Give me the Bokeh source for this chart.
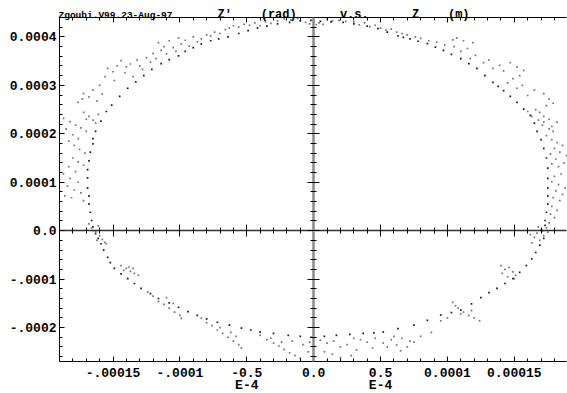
from bokeh.plotting import figure
from bokeh.models import Range1d, LinearAxis, FixedTicker, Label
from bokeh.embed import file_html
from bokeh.resources import INLINE

# Units: Z in micrometres (1e-6 m), Z' in microradians (1e-6 rad)
core_z = [-2,-10,-18,-27,-35,-42,-49,-56,-64,-71,-77,-84,-90,-96,-101,-108,-114,-121,-127,-133,-139,-145,-151,-155,-159,-163,-165,-165,-167,-168,-169,-169,-169,-168,-168,-167,-166,-165,-163,-161,-159,-157,-154,-152,-149,-144,-139,-134,-129,-122,-116,-108,-101,-94,-87,-80,-72,-63,-54,-47,-40,-30,-19,-10,-2,8,17,27,37,45,52,63,75,85,95,103,110,118,125,131,137,143,149,154,159,163,166,169,172,171,173,173,174,175,175,175,175,175,174,172,170,167,165,162,157,152,147,142,138,134,128,122,116,110,103,97,91,85,78,72,67,63,55,48,40,30,22,13,5]
core_zp = [434,433,430,427,422,418,413,407,400,396,392,385,378,370,361,353,345,333,320,307,294,277,259,246,226,205,190,179,162,144,126,109,88,72,55,38,21,8,-6,-16,-27,-40,-55,-66,-78,-89,-99,-109,-119,-130,-140,-149,-158,-167,-175,-182,-189,-195,-201,-205,-209,-212,-216,-218,-220,-218,-216,-214,-212,-211,-209,-202,-195,-185,-174,-169,-164,-151,-138,-128,-119,-109,-99,-86,-72,-58,-45,-30,-16,0,11,21,38,55,72,88,108,129,150,170,188,205,222,238,251,265,277,289,298,306,320,335,345,355,364,372,379,386,391,396,399,402,410,417,422,427,430,431,432]

halo_z = [
    -176,-173,-172,-168,-165,-162,-160,-158,-156,-154,-150,-149,-147,-144,-141,-140,-137,-135,-132,-130,-128,-125,-122,-120,-118,-116,-114,-112,-110,-108,-105,-103,-101,-99,-96,-93,-90,-87,-84,-80,-77,-74,-70,-66,-63,-60,-56,-52,-48,-44,-40,-36,-32,-27,-22,-17,-12,
    -172,-168,-165,-161,-170,-163,
    -6,-3,0,2,4,7,10,14,19,24,30,34,38,42,46,50,54,58,62,66,70,76,80,86,92,98,104,107,112,119,115,110,105,117,121,127,131,134,139,142,147,152,157,149,154,145,152,156,160,165,172,176,179,174,169,166,172,176,182,178,172,
    160,163,168,171,176,179,174,178,182,186,180,184,189,177,181,187,183,178,190,185,180,178,183,188,181,186,179,184,190,178,182,177,180,176,174,170,167,172,165,169,163,175,162,168,
    140,143,146,149,151,145,141,150,104,108,112,116,120,124,110,106,118,100,95,75,70,65,62,72,58,52,46,40,35,30,25,20,15,10,5,0,-3,8,14,20,28,32,44,55,66,80,88,60,
    -144,-140,-137,-134,-131,-138,-142,-135,-124,-120,-116,-112,-108,-104,-100,-99,-110,-105,-84,-80,-76,-72,-68,-64,-60,-56,-54,-70,-62,-58,-40,-35,-30,-26,-22,-18,-14,-10,-32,-24,-16,-8,-4,
    -187,-182,-178,-174,-170,-185,-180,-176,-183,-179,-175,-171,-180,-176,-183,-172,-178,-187,-182,-176,-184,-179,-174,-186,-181,-172,-168,-166,-163,-160,-158,-156,-162,-155,-165,-161,
]
halo_zp = [
    265,272,283,276,290,268,300,282,318,335,328,310,340,351,326,338,344,318,352,340,333,357,348,366,355,388,372,380,365,392,378,370,398,385,393,381,400,390,396,404,402,410,407,415,418,423,420,426,424,429,423,431,428,433,437,435,438,
    244,236,228,240,230,222,
    430,427,431,425,429,426,436,433,434,432,431,425,429,421,424,418,414,416,410,407,404,400,397,392,389,383,394,398,392,388,376,370,380,355,362,347,352,335,341,330,347,338,331,314,320,305,294,300,279,290,283,272,263,258,244,250,236,230,224,215,224,
    246,236,228,218,210,205,196,188,182,176,170,162,155,158,148,140,132,138,125,117,112,101,95,88,82,75,68,62,58,50,42,34,27,16,6,2,-5,-10,-14,-20,-25,-3,-8,8,
    -72,-80,-76,-85,-92,-95,-88,-99,-148,-160,-168,-175,-180,-186,-172,-155,-165,-180,-186,-230,-240,-248,-236,-228,-225,-232,-222,-230,-225,-222,-235,-240,-228,-232,-226,-238,-230,-250,-255,-262,-258,-246,-242,-240,-222,-218,-210,-218,
    -72,-78,-84,-88,-92,-75,-82,-78,-127,-135,-146,-152,-160,-168,-175,-181,-138,-150,-181,-190,-196,-205,-212,-220,-228,-235,-242,-200,-210,-218,-216,-225,-232,-238,-245,-252,-258,-263,-222,-230,-228,-235,-250,
    232,225,218,212,205,210,198,190,185,176,168,160,150,142,132,135,122,117,108,100,92,84,78,72,68,62,14,5,-2,-10,-18,-24,-20,-27,0,10,
]

# plotted window (data units) and axis tick labels
z_lo, z_hi = -190, 189
zp_lo, zp_hi = -270, 440
x_ticks = [-150, -100, -50, 0, 50, 100, 150]
x_labels = ["-.00015", "-.0001", "-0.5", "0.0", "0.5", "0.0001", "0.00015"]
x_exp_label = "E-4"          # second line under the -0.5 and 0.5 tick labels
y_ticks = [-200, -100, 0, 100, 200, 300, 400]
y_labels = ["-.0002", "-.0001", "0.0", "0.0001", "0.0002", "0.0003", "0.0004"]
x_minor = list(range(-190, 190, 10))
y_minor = list(range(-260, 440, 20))

NB = "\u00a0"  # non-breaking space keeps the title's wide spacing
title_text = "Z'" + NB * 4 + "(rad)" + NB * 6 + "v.s." + NB * 6 + "Z" + NB * 4 + "(m)"
stamp_text = "Zgoubi.V99.23-Aug-97"

FONT = "Liberation Mono"
W, H = 567, 393
# pixel box of the plotted window inside the canvas
BOX_L, BOX_R, BOX_T, BOX_B = 59, 566, 17, 361
sx = (z_hi - z_lo) / (BOX_R - BOX_L)
sy = (zp_hi - zp_lo) / (BOX_B - BOX_T)

# the frame covers the whole canvas; axes are placed at the window edges
p = figure(width=W, height=H,
           x_range=Range1d(z_lo - BOX_L * sx, z_hi + (W - BOX_R) * sx),
           y_range=Range1d(zp_lo - (H - BOX_B) * sy, zp_hi + BOX_T * sy),
           output_backend="svg", toolbar_location=None,
           x_axis_location=None, y_axis_location=None,
           min_border_left=0, min_border_right=0, min_border_top=0, min_border_bottom=0)
p.grid.visible = False
p.outline_line_color = None
p.background_fill_color = "white"
p.border_fill_color = "white"

xt = FixedTicker(ticks=x_ticks, minor_ticks=x_minor)
yt = FixedTicker(ticks=y_ticks, minor_ticks=y_minor)


def make_axis(loc, ticker, bounds, labels, tin=5, tout=0, mtin=3, mtout=0):
    ax = LinearAxis(fixed_location=loc, bounds=bounds, ticker=ticker,
                    major_tick_in=tin, major_tick_out=tout,
                    minor_tick_in=mtin, minor_tick_out=mtout)
    ax.axis_line_color = "black"
    ax.major_tick_line_color = "black"
    ax.minor_tick_line_color = "black"
    ax.major_label_text_font = FONT
    ax.major_label_text_font_style = "bold"
    ax.major_label_text_font_size = "13px"
    ax.major_label_text_color = "black"
    ax.major_label_overrides = labels
    return ax


blank_x = dict(zip(x_ticks, [""] * len(x_ticks)))
blank_y = dict(zip(y_ticks, [""] * len(y_ticks)))

bottom = make_axis(zp_lo, xt, (z_lo, z_hi), dict(zip(x_ticks, x_labels)))
bottom.major_label_standoff = 6
p.add_layout(bottom, "below")

left = make_axis(z_lo, yt, (zp_lo, zp_hi), dict(zip(y_ticks, y_labels)))
left.major_label_standoff = 3
p.add_layout(left, "left")

top = make_axis(zp_hi, xt, (z_lo, z_hi), blank_x)
p.add_layout(top, "above")

cv = make_axis(0, yt, (zp_lo, zp_hi), blank_y, tin=6, tout=6, mtin=3, mtout=3)
cv.axis_line_color = "#8a8a8a"
cv.axis_line_width = 2.5
p.add_layout(cv, "left")

ch = make_axis(0, xt, (z_lo, z_hi), blank_x, tin=6, tout=6, mtin=3, mtout=3)
ch.axis_line_color = "#333333"
ch.axis_line_width = 1.5
p.add_layout(ch, "below")

p.scatter(halo_z, halo_zp, marker="square", size=1.7, line_color=None,
          fill_color="black", fill_alpha=0.55)
p.scatter(core_z, core_zp, marker="square", size=1.7, line_color=None,
          fill_color="black", fill_alpha=0.9)

for tx in (x_ticks[2], x_ticks[4]):
    p.add_layout(Label(x=tx, y=H - 385, x_units="data", y_units="screen", text=x_exp_label,
                       text_font=FONT, text_font_style="bold", text_font_size="13px",
                       text_align="center", text_baseline="alphabetic", text_color="black"))

p.add_layout(Label(x=217, y=H - 14, x_units="screen", y_units="screen", text=title_text,
                   text_font=FONT, text_font_style="bold", text_font_size="12px",
                   text_baseline="alphabetic", text_color="black"))
p.add_layout(Label(x=58, y=H - 15, x_units="screen", y_units="screen", text=stamp_text,
                   text_font=FONT, text_font_style="bold", text_font_size="9.5px",
                   text_baseline="alphabetic", text_color="black"))

open("out.html", "w").write(file_html(p, INLINE))
